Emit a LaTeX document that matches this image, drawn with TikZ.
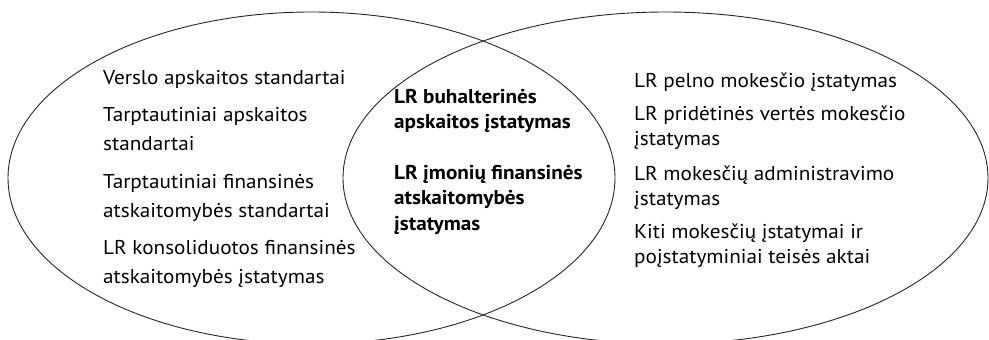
\documentclass[tikz,border=0pt]{standalone}
\usepackage{fontspec}
\setmainfont[FakeStretch=1.06]{PT Sans}
\begin{document}
\begin{tikzpicture}[x=1pt,y=-1pt,
  ring/.style={draw=black!85, line width=0.9pt},
  plain/.style={anchor=base west, inner sep=0pt, font=\fontsize{20}{29}\selectfont},
  tight/.style={anchor=base west, inner sep=0pt, font=\fontsize{20}{25.5}\selectfont},
  strong/.style={tight, font=\fontsize{20}{25.5}\selectfont\bfseries}]
\useasboundingbox (0,0) rectangle (989,340);
\clip (0,0) rectangle (989,340);

% the two overlapping sets
\draw[ring] (311.5,178) ellipse [x radius=303.5pt, y radius=166pt];
\draw[ring] (665.5,178) ellipse [x radius=322.5pt, y radius=166pt];

% accounting standards (left set)
\node[plain] (l1) at (103,84)  {\parbox[t]{300pt}{Verslo apskaitos standartai}};
\node[plain] (l2) at (103,121) {\parbox[t]{300pt}{Tarptautiniai apskaitos\\standartai}};
\node[plain] (l3) at (103,188) {\parbox[t]{300pt}{Tarptautiniai finansinės\\atskaitomybės standartai}};
\node[plain] (l4) at (103,254) {\parbox[t]{300pt}{LR konsoliduotos finansinės\\atskaitomybės įstatymas}};

% common laws (intersection)
\node[strong] (m1) at (394,103) {\parbox[t]{300pt}{LR buhalterinės\\apskaitos įstatymas}};
\node[strong] (m2) at (394,179) {\parbox[t]{300pt}{LR įmonių finansinės\\atskaitomybės\\įstatymas}};

% tax laws (right set)
\node[tight] (r1) at (634,87)  {\parbox[t]{300pt}{LR pelno mokesčio įstatymas}};
\node[tight] (r2) at (634,120) {\parbox[t]{300pt}{LR pridėtinės vertės mokesčio\\įstatymas}};
\node[tight] (r3) at (634,180) {\parbox[t]{300pt}{LR mokesčių administravimo\\įstatymas}};
\node[tight] (r4) at (634,238) {\parbox[t]{300pt}{Kiti mokesčių įstatymai ir\\poįstatyminiai teisės aktai}};
\end{tikzpicture}
\end{document}
